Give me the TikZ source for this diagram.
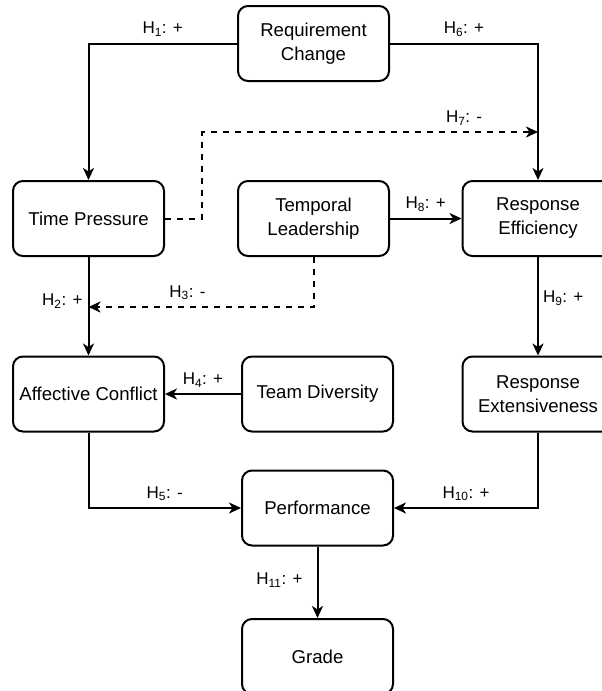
\documentclass[tikz,border=0pt]{standalone}
\usepackage{fontspec}
\setmainfont{Liberation Sans}
\usetikzlibrary{arrows.meta,positioning}
\tikzset{
  factor/.style={draw,line width=2pt,rounded corners=10pt,minimum width=151pt,
    minimum height=75pt,align=center,inner sep=2pt,font=\fontsize{18.6}{24}\selectfont},
  hyp/.style={fill=white,inner sep=1pt,font=\fontsize{17}{19}\selectfont},
  link/.style={line width=2pt,-{Stealth[length=12pt,width=11pt,inset=3.5pt]}},
  weak/.style={link,dash pattern=on 6pt off 6pt},
}

\begin{document}
\begin{tikzpicture}[x=1pt,y=-1pt]
  \clip (0,0) rectangle (602,691);
  % factors
  \node[factor] (req) at (313.5,43.5) {Requirement\\Change};
  \node[factor] (tp) at (88.5,218.5) {Time Pressure};
  \node[factor] (tl) at (313.5,218.5) {Temporal\\Leadership};
  \node[factor] (reff) at (538,218.5) {Response\\Efficiency};
  \node[factor] (ac) at (88.5,394) {Affective Conflict};
  \node[factor] (td) at (317.5,394) {Team Diversity};
  \node[factor] (rext) at (538,394) {Response\\Extensiveness};
  \node[factor] (perf) at (317.5,508) {Performance};
  \node[factor] (grade) at (317.5,656.5) {Grade};
  \coordinate (h7end) at (538,132);
  \coordinate (h3end) at (88.5,307);
  % hypotheses
  \draw[link] (req.west) -| node[hyp,pos=0.25,above=5pt] {H\textsubscript{1}: +} (tp);
  \draw[link] (tp) -- node[hyp,pos=0.45,left=4pt] {H\textsubscript{2}: +} (ac);
  \draw[weak] (tl.south) |- node[hyp,pos=0.78,above=5pt] {H\textsubscript{3}: -} (h3end);
  \draw[link] (td) -- node[hyp,midway,above=5pt] {H\textsubscript{4}: +} (ac);
  \draw[link] (ac.south) |- node[hyp,pos=0.75,above=5pt] {H\textsubscript{5}: -} (perf.west);
  \draw[link] (req.east) -| node[hyp,pos=0.25,above=5pt] {H\textsubscript{6}: +} (reff);
  \draw[weak] (tp.east) -- ++(37,0) |- node[hyp,pos=0.89,above=5pt] {H\textsubscript{7}: -} (h7end);
  \draw[link] (tl) -- node[hyp,midway,above=5pt] {H\textsubscript{8}: +} (reff);
  \draw[link] (reff) -- node[hyp,pos=0.42,right=3pt] {H\textsubscript{9}: +} (rext);
  \draw[link] (rext.south) |- node[hyp,pos=0.75,above=5pt] {H\textsubscript{10}: +} (perf.east);
  \draw[link] (perf) -- node[hyp,pos=0.47,left=13pt] {H\textsubscript{11}: +} (grade);
\end{tikzpicture}
\end{document}
